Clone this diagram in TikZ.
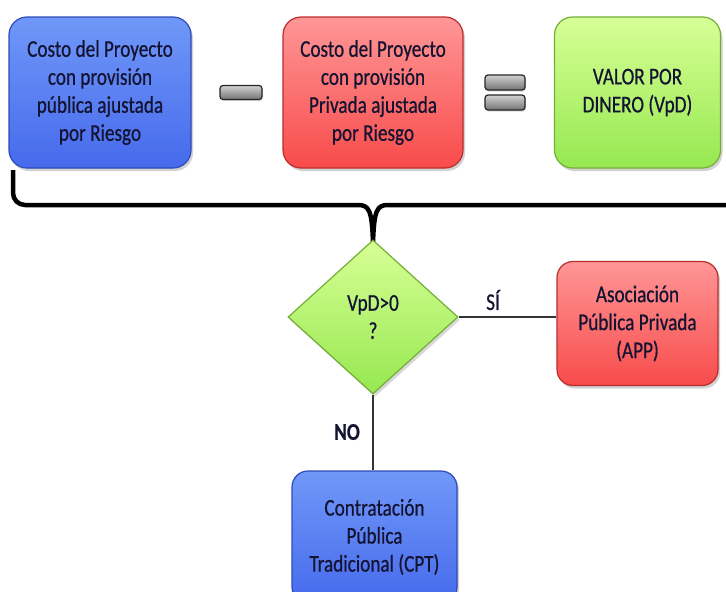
\documentclass[tikz,border=0pt]{standalone}
\usepackage{fontspec}
\setmainfont[FakeStretch=0.8,FakeBold=0.6]{Carlito}
\usetikzlibrary{shapes.geometric,shadows}
\definecolor{txt}{RGB}{20,20,50}
\definecolor{blueT}{RGB}{112,152,248}
\definecolor{blueB}{RGB}{70,106,236}
\definecolor{blueD}{RGB}{45,75,185}
\definecolor{redT}{RGB}{255,150,150}
\definecolor{redB}{RGB}{248,75,75}
\definecolor{redD}{RGB}{185,45,45}
\definecolor{grnT}{RGB}{215,255,150}
\definecolor{grnB}{RGB}{150,232,80}
\definecolor{grnD}{RGB}{115,175,55}
\definecolor{barT}{RGB}{210,210,210}
\definecolor{barB}{RGB}{115,115,115}
\tikzset{
  box/.style={rectangle, rounded corners=18pt, line width=1.2pt, align=center,
    text=txt, font=\fontsize{24}{28}\selectfont, inner sep=0pt,
    drop shadow={opacity=0.35, shadow xshift=2pt, shadow yshift=-3pt}},
  bluebox/.style={box, draw=blueD, top color=blueT, bottom color=blueB},
  redbox/.style={box, draw=redD, top color=redT, bottom color=redB},
  greenbox/.style={box, draw=grnD, top color=grnT, bottom color=grnB},
  bar/.style={rectangle, rounded corners=3pt, draw=black!85, line width=1.2pt,
    top color=barT, bottom color=barB, inner sep=0pt,
    drop shadow={opacity=0.3, shadow xshift=1pt, shadow yshift=-1.5pt}},
  lab/.style={text=txt, font=\fontsize{24}{28}\selectfont, inner sep=0pt},
  conn/.style={draw=black!80, line width=1.3pt},
  bracestyle/.style={draw=black, line width=4.5pt, line join=round}
}
\begin{document}
\begin{tikzpicture}[x=1pt,y=-1pt]
\useasboundingbox[fill=white] (0,0) rectangle (726,592);
% top row
\node[bluebox, minimum width=182pt, minimum height=151pt] (pub) at (100,92.5)
  {Costo del Proyecto\\con provisión\\pública ajustada\\por Riesgo};
\node[bar, minimum width=42pt, minimum height=14pt] (minus) at (241,92.5) {};
\node[redbox, minimum width=180pt, minimum height=151pt] (priv) at (373,92.5)
  {Costo del Proyecto\\con provisión\\Privada ajustada\\por Riesgo};
\node[bar, minimum width=40pt, minimum height=15pt] (eqa) at (505,82.5) {};
\node[bar, minimum width=40pt, minimum height=15pt] (eqb) at (505,102.5) {};
\node[greenbox, minimum width=166pt, minimum height=151pt] (vpd) at (637.5,92.5)
  {VALOR POR\\DINERO (VpD)};
% brace
\coordinate (bl) at (13,170);
\coordinate (tip) at (373,243);
\coordinate (br) at (726,205);
\draw[bracestyle] (bl) -- (13,193) arc[start angle=180, end angle=90, radius=12] -- (358,205)
  .. controls (369,205) and (372,210) .. (tip)
  .. controls (374,210) and (377,205) .. (388,205) -- (br);
% decision
\node[diamond, draw=grnD, line width=1.2pt, top color=grnT, bottom color=grnB,
  minimum width=170pt, minimum height=154pt, inner sep=0pt, align=center,
  text=txt, font=\fontsize{24}{28}\selectfont,
  drop shadow={opacity=0.3, shadow xshift=2pt, shadow yshift=-3pt}] (q) at (373,317)
  {VpD>0\\?};
\node[redbox, minimum width=161pt, minimum height=124pt, rounded corners=16pt] (app) at (637.5,323.5)
  {Asociación\\Pública Privada\\(APP)};
\node[bluebox, minimum width=165pt, minimum height=132pt, rounded corners=16pt] (cpt) at (374.5,537)
  {Contratación\\Pública\\Tradicional (CPT)};
\draw[conn] (q.east) -- (q.east -| app.west);
\draw[conn] (q.south) -- (q.south |- cpt.north);
\node[lab] (si) at (493,300) {SÍ};
\node[lab, font=\fontsize{24}{28}\selectfont\bfseries] (no) at (347,432) {NO};
\end{tikzpicture}
\end{document}
